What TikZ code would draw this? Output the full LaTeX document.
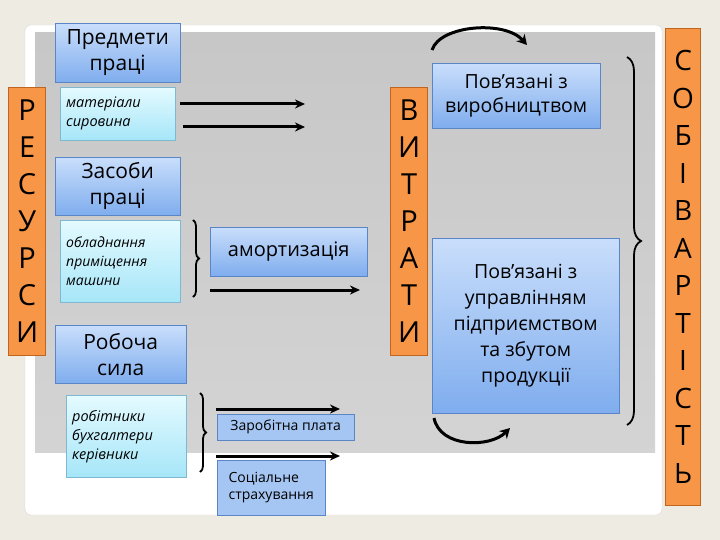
\documentclass[tikz,border=0pt]{standalone}
\usepackage{fontspec}
\setmainfont{Open Sans}
\usetikzlibrary{arrows.meta,decorations.pathreplacing}
\definecolor{bgc}{HTML}{EEEBE3}
\definecolor{orf}{HTML}{F79646}
\definecolor{ord}{HTML}{C0651F}
\definecolor{bt}{HTML}{C9DEFB}
\definecolor{bb}{HTML}{7FADEE}
\definecolor{bd}{HTML}{5A86C8}
\definecolor{ct}{HTML}{E4FAFF}
\definecolor{cb}{HTML}{A6E6F8}
\definecolor{cd}{HTML}{7FB8D0}
\newcommand{\apo}{\char"27}
\tikzset{
 orbox/.style={draw=ord,line width=1.2pt,fill=orf,inner sep=0pt},
 bbox/.style={draw=bd,top color=bt,bottom color=bb,inner sep=2pt,align=center},
 cbox/.style={draw=cd,top color=ct,bottom color=cb,inner xsep=6pt,inner ysep=3pt,align=left,text width=#1},
 arr/.style={line width=3pt,-{Stealth[length=10pt,width=9pt]}},
 brc/.style={line width=1.8pt,decorate,decoration={brace,amplitude=6pt}},
 curv/.style={line width=3pt,-{Stealth[length=10pt,width=11pt]}},
}
\begin{document}
\begin{tikzpicture}[x=1pt,y=-1pt]
\fill[bgc] (0,0) rectangle (720,540);
\useasboundingbox (0,0) rectangle (720,540);
\fill[white,draw=black!15,rounded corners=6pt] (25,25) rectangle (662,515);
\fill[top color=black!22,bottom color=black!17] (35,33) rectangle (655,452);
% orange columns
\node[orbox,minimum width=37pt,minimum height=268pt,anchor=north west,align=center,font=\fontsize{29}{37}\selectfont] (res) at (8,87) {Р\\Е\\С\\У\\Р\\С\\И};
\node[orbox,minimum width=37pt,minimum height=268pt,anchor=north west,align=center,font=\fontsize{29}{37}\selectfont] (vyt) at (390,87) {В\\И\\Т\\Р\\А\\Т\\И};
\node[orbox,minimum width=35pt,minimum height=477pt,anchor=north west,align=center,font=\fontsize{28}{37.5}\selectfont] (sob) at (665,28) {С\\О\\Б\\І\\В\\А\\Р\\Т\\І\\С\\Т\\Ь};
% left boxes
\node[bbox,minimum width=125pt,minimum height=59pt,anchor=north west,font=\fontsize{21}{26}\selectfont] (pp) at (55,23) {Предмети\\праці};
\node[cbox=103pt,minimum height=53pt,anchor=north west,font=\itshape\fontsize{14.5}{19}\selectfont] (mat) at (60,87) {матеріали\\сировина};
\node[bbox,minimum width=125pt,minimum height=58pt,anchor=north west,font=\fontsize{21}{26}\selectfont] (zp) at (55,157) {Засоби\\праці};
\node[cbox=108pt,minimum height=82pt,anchor=north west,font=\itshape\fontsize{14}{19}\selectfont] (obl) at (60,220) {обладнання\\приміщення\\машини};
\node[bbox,minimum width=131pt,minimum height=58pt,anchor=north west,font=\fontsize{21}{26}\selectfont] (rs) at (55,325) {Робоча\\сила};
\node[cbox=108pt,minimum height=82pt,anchor=north west,font=\itshape\fontsize{14.5}{19}\selectfont] (rob) at (66,395) {робітники\\бухгалтери\\керівники};
% middle boxes
\node[bbox,minimum width=157pt,minimum height=49pt,anchor=north west,font=\fontsize{20}{24}\selectfont] (am) at (210,227) {амортизація};
\node[bbox,draw=bd,top color=bb!70,bottom color=bb!70,minimum width=137pt,minimum height=26pt,anchor=north west,inner sep=1pt,font=\fontsize{14}{16}\selectfont] (zpl) at (217,414) {Заробітна плата};
\node[bbox,draw=bd,top color=bb!70,bottom color=bb!70,minimum width=108pt,minimum height=55pt,anchor=north west,align=left,font=\fontsize{14}{17}\selectfont] (soc) at (217,460) {Соціальне\\страхування};
% right boxes
\node[bbox,minimum width=168pt,minimum height=65pt,anchor=north west,font=\fontsize{19.5}{24}\selectfont] (vyr) at (432,63) {Пов\apo язані з\\виробництвом};
\node[bbox,minimum width=187pt,minimum height=175pt,anchor=north west,font=\fontsize{19.5}{26}\selectfont] (upr) at (432,238) {Пов\apo язані з\\управлінням\\підприємством\\та збутом\\продукції};
% arrows
\coordinate (a1) at (305,104); \coordinate (a2) at (305,127);
\draw[arr] (mat.east |- a1) ++(5,0) coordinate (m1) (m1) -- (a1);
\draw[arr] (mat.east |- a2) ++(8,0) coordinate (m2) (m2) -- (a2);
\coordinate (a3s) at (210,290); \coordinate (a3) at (360,290);
\draw[arr] (a3s) -- (a3);
\coordinate (a4s) at (216,409); \coordinate (a4) at (340,409);
\draw[arr] (a4s) -- (a4);
\coordinate (a5s) at (216,456); \coordinate (a5) at (340,456);
\draw[arr] (a5s) -- (a5);
% braces
\coordinate (b1t) at (193,220); \coordinate (b1b) at (193,297);
\draw[brc] (b1t) -- (b1b);
\coordinate (b2t) at (200,393); \coordinate (b2b) at (200,472);
\draw[brc] (b2t) -- (b2b);
\coordinate (b3t) at (627,57); \coordinate (b3b) at (627,425);
\draw[brc,decoration={brace,amplitude=14pt,aspect=0.5}] (b3t) -- (b3b);
% curved arrows
\coordinate (c1s) at (432,50); \coordinate (c1e) at (527,45);
\draw[curv] (c1s) .. controls (440,25) and (505,20) .. (c1e);
\coordinate (c2s) at (434,418); \coordinate (c2e) at (510,428);
\draw[curv] (c2s) .. controls (440,448) and (490,448) .. (c2e);
\end{tikzpicture}
\end{document}
